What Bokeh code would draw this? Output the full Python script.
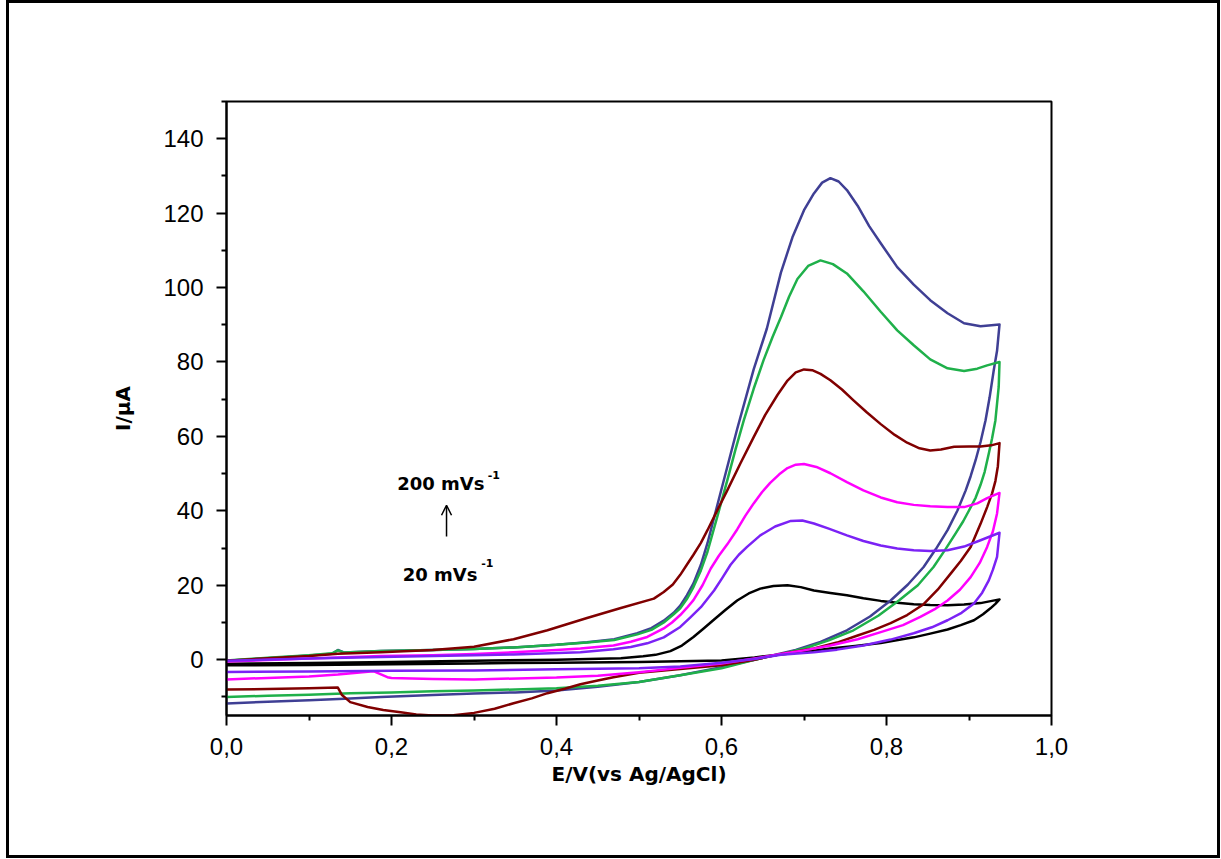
from bokeh.plotting import figure
from bokeh.models import FixedTicker, CustomJSTickFormatter, Range1d, Label, Arrow, OpenHead
from bokeh.embed import file_html
from bokeh.resources import INLINE

# ---------------- data ----------------
# black (20 mV/s)
black_E = [0.0, 0.1, 0.2, 0.3, 0.4, 0.478, 0.505, 0.52, 0.538, 0.552, 0.566, 0.578, 0.59, 0.605,
           0.619, 0.633, 0.647, 0.663, 0.68, 0.696, 0.712, 0.732, 0.752, 0.772, 0.793, 0.813,
           0.833, 0.853, 0.874, 0.894, 0.914, 0.937,
           0.932, 0.926, 0.917, 0.906, 0.89, 0.874, 0.853, 0.833, 0.793, 0.762, 0.732, 0.7,
           0.672, 0.64, 0.6, 0.5, 0.4, 0.3, 0.2, 0.1, 0.0]
black_I = [-1.1, -0.9, -0.6, -0.3, 0.0, 0.4, 0.9, 1.3, 2.3, 3.8, 6.1, 8.3, 10.6, 13.4,
           15.9, 17.8, 19.1, 19.8, 20.0, 19.5, 18.6, 17.9, 17.3, 16.5, 15.8, 15.3,
           14.9, 14.7, 14.6, 14.8, 15.2, 16.2,
           15.0, 13.8, 12.2, 10.6, 9.3, 8.1, 7.0, 6.0, 4.5, 3.7, 3.0, 2.1,
           1.4, 0.6, -0.2, -0.6, -0.8, -1.0, -1.2, -1.4, -1.5]

# purple
purple_E = [0.0, 0.1, 0.187, 0.3, 0.348, 0.429, 0.469, 0.49, 0.51, 0.53, 0.55, 0.562, 0.575, 0.591,
            0.601, 0.611, 0.621, 0.631, 0.647, 0.665, 0.684, 0.698, 0.712, 0.73, 0.752, 0.772,
            0.793, 0.813, 0.833, 0.853, 0.874, 0.894, 0.914, 0.937,
            0.934, 0.929, 0.924, 0.916, 0.906, 0.891, 0.874, 0.855, 0.833, 0.805, 0.772, 0.74,
            0.712, 0.672, 0.64, 0.6, 0.55, 0.5, 0.4, 0.3, 0.2, 0.1, 0.0]
purple_I = [-0.3, 0.3, 0.7, 1.2, 1.4, 2.0, 2.8, 3.4, 4.4, 6.0, 8.8, 11.3, 14.1, 18.6,
            22.0, 25.5, 28.2, 30.3, 33.4, 35.8, 37.3, 37.4, 36.6, 35.2, 33.4, 31.9,
            30.7, 29.9, 29.4, 29.2, 29.4, 30.4, 32.1, 34.1,
            27.6, 24.2, 21.3, 18.0, 15.1, 12.6, 10.6, 8.7, 7.1, 5.4, 3.8, 2.7,
            2.0, 1.3, 0.2, -0.8, -1.8, -2.3, -2.6, -2.9, -3.0, -3.2, -3.3]

# magenta
magenta_E = [0.0, 0.1, 0.187, 0.25, 0.3, 0.348, 0.4, 0.429, 0.469, 0.49, 0.51, 0.53, 0.54, 0.55,
             0.558, 0.566, 0.577, 0.587, 0.597, 0.607, 0.619, 0.629, 0.639, 0.649, 0.659, 0.67,
             0.68, 0.69, 0.7, 0.715, 0.732, 0.752, 0.772, 0.793, 0.813, 0.833, 0.853, 0.874,
             0.894, 0.91, 0.922, 0.937,
             0.934, 0.929, 0.922, 0.913, 0.902, 0.889, 0.874, 0.858, 0.841, 0.82, 0.793, 0.765,
             0.732, 0.7, 0.672, 0.64, 0.6, 0.55, 0.5, 0.45, 0.4, 0.3, 0.25, 0.2, 0.195, 0.178,
             0.135, 0.1, 0.05, 0.0]
magenta_I = [-0.5, 0.3, 1.0, 1.2, 1.5, 2.0, 2.6, 3.0, 3.8, 4.8, 6.1, 8.4, 10.0, 12.0,
             13.9, 16.0, 20.0, 24.5, 28.0, 31.0, 35.0, 38.7, 42.0, 45.0, 47.5, 49.8,
             51.5, 52.4, 52.6, 51.8, 50.1, 47.7, 45.5, 43.6, 42.3, 41.6, 41.2, 41.0,
             41.0, 42.0, 43.4, 44.8,
             39.3, 34.5, 30.3, 26.0, 22.2, 18.8, 15.9, 13.5, 11.5, 9.3, 7.4, 5.5,
             3.8, 2.5, 1.5, 0.3, -1.0, -2.2, -3.4, -4.3, -4.8, -5.3, -5.2, -4.9, -4.7, -3.1,
             -4.0, -4.5, -4.9, -5.3]

# dark red
darkred_E = [0.0, 0.05, 0.1, 0.135, 0.187, 0.25, 0.3, 0.348, 0.389, 0.437, 0.478, 0.518, 0.53,
             0.541, 0.55, 0.558, 0.566, 0.575, 0.583, 0.595, 0.607, 0.623, 0.639, 0.653, 0.668,
             0.68, 0.69, 0.7, 0.71, 0.72, 0.732, 0.746, 0.76, 0.776, 0.793, 0.81, 0.825, 0.84,
             0.853, 0.866, 0.882, 0.9, 0.914, 0.927, 0.937,
             0.935, 0.932, 0.928, 0.922, 0.914, 0.902, 0.89, 0.878, 0.862, 0.845, 0.825, 0.805,
             0.785, 0.765, 0.74, 0.712, 0.672, 0.64, 0.6, 0.55, 0.5, 0.469, 0.45, 0.429, 0.41,
             0.389, 0.37, 0.348, 0.325, 0.3, 0.275, 0.25, 0.23, 0.211, 0.19, 0.171, 0.15, 0.14,
             0.135, 0.1, 0.05, 0.0]
darkred_I = [-0.3, 0.4, 1.0, 1.6, 2.0, 2.6, 3.5, 5.5, 7.9, 11.2, 13.9, 16.4, 18.2,
             20.2, 22.8, 25.5, 28.2, 31.4, 34.8, 40.2, 45.5, 52.8, 59.8, 65.8, 71.2,
             75.0, 77.2, 78.0, 77.8, 76.8, 75.1, 72.6, 69.7, 66.5, 63.3, 60.4, 58.3, 56.8,
             56.2, 56.5, 57.2, 57.3, 57.3, 57.6, 58.2,
             52.0, 48.0, 44.7, 41.0, 36.5, 30.3, 26.5, 23.2, 18.8, 14.9, 12.0, 9.8,
             8.0, 6.5, 4.6, 3.0, 1.5, 0.0, -1.5, -2.5, -3.5, -4.7, -5.6, -6.6, -7.8,
             -9.0, -10.4, -11.7, -13.2, -14.3, -14.9, -15.0, -14.7, -14.1, -13.5, -12.7, -11.4, -9.5,
             -7.5, -7.7, -7.9, -8.0]

# green
green_E = [0.0, 0.05, 0.1, 0.128, 0.135, 0.143, 0.187, 0.25, 0.3, 0.348, 0.4, 0.437, 0.47, 0.498,
           0.515, 0.53, 0.542, 0.55, 0.558, 0.566, 0.575, 0.583, 0.595, 0.607, 0.617, 0.627,
           0.639, 0.651, 0.662, 0.672, 0.682, 0.692, 0.705, 0.72, 0.735, 0.752, 0.772, 0.793,
           0.813, 0.833, 0.853, 0.874, 0.894, 0.91, 0.922, 0.937,
           0.936, 0.932, 0.928, 0.924, 0.919, 0.914, 0.908, 0.9, 0.893, 0.884, 0.871, 0.857,
           0.838, 0.815, 0.79, 0.76, 0.73, 0.7, 0.672, 0.64, 0.6, 0.55, 0.5, 0.45, 0.4, 0.35,
           0.3, 0.25, 0.2, 0.15, 0.1, 0.05, 0.0]
green_I = [-0.2, 0.5, 1.2, 1.7, 2.5, 1.9, 2.3, 2.6, 2.9, 3.3, 4.0, 4.6, 5.3, 6.8,
           8.0, 10.0, 12.2, 13.8, 16.3, 19.5, 24.0, 29.0, 38.5, 48.2, 56.5, 64.3,
           72.8, 80.5, 86.8, 92.0, 97.6, 102.3, 105.8, 107.3, 106.3, 103.8, 99.0, 93.5,
           88.5, 84.5, 80.7, 78.3, 77.6, 78.2, 79.1, 80.0,
           73.3, 64.3, 59.5, 55.4, 50.5, 47.0, 43.5, 40.1, 37.2, 34.0, 29.5, 24.9,
           20.0, 15.9, 11.8, 7.9, 5.2, 3.0, 1.5, 0.0, -2.3, -4.2, -6.0, -7.0, -7.7, -8.0,
           -8.3, -8.5, -8.8, -9.0, -9.4, -9.7, -10.0]

# navy (200 mV/s)
navy_E = [0.0, 0.05, 0.1, 0.128, 0.135, 0.143, 0.187, 0.25, 0.3, 0.348, 0.4, 0.437, 0.47, 0.498,
          0.515, 0.53, 0.542, 0.55, 0.558, 0.566, 0.575, 0.583, 0.599, 0.619, 0.639, 0.655,
          0.672, 0.686, 0.7, 0.712, 0.722, 0.732, 0.742, 0.752, 0.765, 0.779, 0.793, 0.813,
          0.833, 0.853, 0.874, 0.894, 0.914, 0.937,
          0.934, 0.93, 0.925, 0.92, 0.914, 0.908, 0.902, 0.896, 0.886, 0.874, 0.86, 0.845,
          0.826, 0.805, 0.78, 0.752, 0.72, 0.69, 0.672, 0.64, 0.6, 0.55, 0.5, 0.45, 0.4, 0.35,
          0.3, 0.25, 0.187, 0.15, 0.1, 0.05, 0.0]
navy_I = [-0.3, 0.4, 1.1, 1.6, 2.6, 1.9, 2.3, 2.6, 2.9, 3.3, 4.0, 4.7, 5.5, 7.1,
          8.5, 10.5, 12.6, 14.5, 17.3, 20.5, 25.5, 31.3, 45.0, 62.0, 78.0, 89.0,
          104.0, 113.5, 120.8, 125.3, 128.2, 129.4, 128.5, 126.2, 122.0, 116.5, 111.9, 105.5,
          100.8, 96.6, 93.1, 90.4, 89.6, 90.1,
          83.0, 77.8, 70.5, 64.3, 58.5, 53.6, 49.3, 45.5, 40.1, 34.8, 29.8, 24.9,
          20.2, 15.9, 11.6, 7.9, 4.8, 2.6, 1.7, 0.0, -2.0, -4.2, -6.0, -7.3, -8.3, -8.8,
          -9.1, -9.5, -10.0, -10.4, -10.9, -11.3, -11.8]

curves = [
    (black_E, black_I, "#000000"),
    (navy_E, navy_I, "#3F3F94"),
    (green_E, green_I, "#1FB04A"),
    (darkred_E, darkred_I, "#800000"),
    (magenta_E, magenta_I, "#FF00FF"),
    (purple_E, purple_I, "#7B22F5"),
]

x_major = [0.0, 0.2, 0.4, 0.6, 0.8, 1.0]
x_minor = [0.1, 0.3, 0.5, 0.7, 0.9]
y_major = [0, 20, 40, 60, 80, 100, 120, 140]
y_minor = [-10, 10, 30, 50, 70, 90, 110, 130, 150]

# annotation positions (data units)
ann_hi = ("200 mVs", 0.207, 47.3, 0.3167, 49.6)
ann_lo = ("20 mVs", 0.2137, 22.9, 0.3087, 25.9)
arrow_x, arrow_y0, arrow_y1 = 0.2667, 33.1, 41.5

# ---------------- figure ----------------
p = figure(width=1214, height=858, x_range=Range1d(0, 1), y_range=Range1d(-15, 150),
           output_backend="svg", toolbar_location=None,
           min_border_left=220, min_border_top=101, min_border_right=169, min_border_bottom=143)
p.styles = {"box-shadow": "inset 0 0 0 3px black", "margin-left": "6px"}
p.xgrid.visible = False
p.ygrid.visible = False
p.outline_line_color = "black"
p.outline_line_width = 2
p.outline_line_alpha = 1.0
p.background_fill_color = "white"
p.border_fill_color = None

for ax in (p.xaxis[0], p.yaxis[0]):
    ax.axis_line_width = 2
    ax.major_tick_line_width = 2
    ax.minor_tick_line_width = 2
    ax.major_tick_in = 0
    ax.major_tick_out = 10
    ax.minor_tick_in = 0
    ax.minor_tick_out = 5
    ax.major_label_text_font = "Liberation Sans"
    ax.major_label_text_font_size = "24px"
    ax.major_label_text_color = "black"
    ax.axis_label_text_font = "DejaVu Sans"
    ax.axis_label_text_font_style = "bold"
    ax.axis_label_text_font_size = "20px"
    ax.axis_label_text_color = "black"

p.xaxis.ticker = FixedTicker(ticks=x_major, minor_ticks=x_minor)
p.yaxis.ticker = FixedTicker(ticks=y_major, minor_ticks=y_minor)
p.xaxis.formatter = CustomJSTickFormatter(code="return tick.toFixed(1).replace('.', ',');")
p.yaxis.formatter = CustomJSTickFormatter(code="return tick.toFixed(0);")
p.xaxis.axis_label = "E/V(vs Ag/AgCl)"
p.yaxis.axis_label = "I/\u03bcA"
p.xaxis.major_label_standoff = 12
p.yaxis.major_label_standoff = 13
p.xaxis.axis_label_standoff = 4
p.yaxis.axis_label_standoff = 25

for e, i, c in curves:
    p.line(e, i, line_color=c, line_width=2.5, line_join="round")

for txt, x0, y0, xs, ys in (ann_hi, ann_lo):
    p.add_layout(Label(x=x0, y=y0, text=txt, text_font="DejaVu Sans", text_font_style="bold",
                       text_font_size="18px", text_color="black", text_baseline="alphabetic"))
    p.add_layout(Label(x=xs, y=ys, text="-1", text_font="DejaVu Sans", text_font_style="bold",
                       text_font_size="11px", text_color="black", text_baseline="alphabetic"))

p.add_layout(Arrow(end=OpenHead(size=10, line_width=1.5, line_color="black"),
                   x_start=arrow_x, y_start=arrow_y0, x_end=arrow_x, y_end=arrow_y1,
                   line_width=1.5, line_color="black"))

open("out.html", "w").write(file_html(p, INLINE))
